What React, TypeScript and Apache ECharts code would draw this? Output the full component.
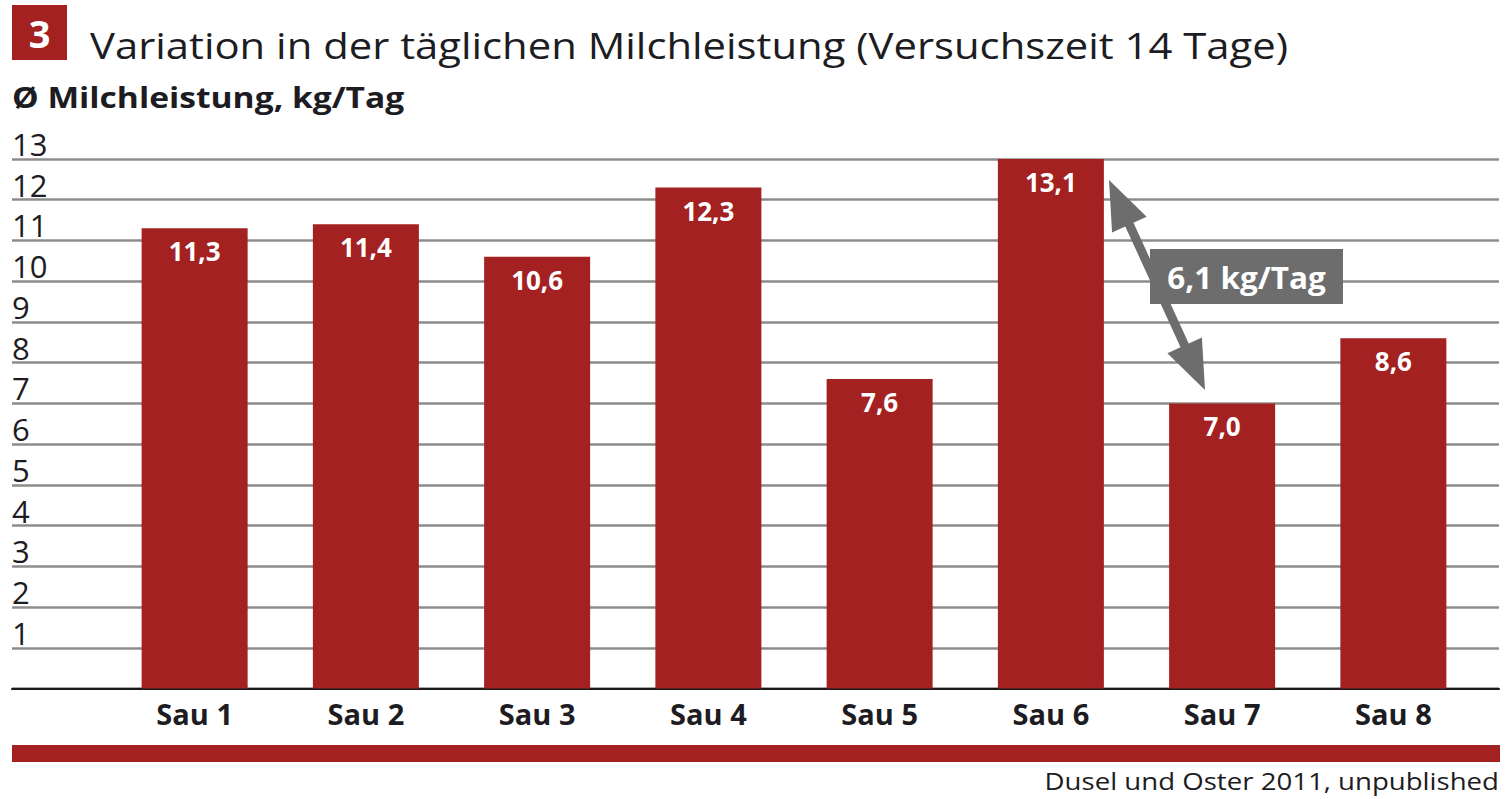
import React, { useEffect, useRef } from "react";
import * as echarts from "echarts";

const categories = ["Sau 1", "Sau 2", "Sau 3", "Sau 4", "Sau 5", "Sau 6", "Sau 7", "Sau 8"];
const milk = [11.3, 11.4, 10.6, 12.3, 7.6, 13.1, 7.0, 8.6];
const yTicks = [0, 1, 2, 3, 4, 5, 6, 7, 8, 9, 10, 11, 12, 13];

const TITLE = "Variation in der täglichen Milchleistung (Versuchszeit 14 Tage)";
const Y_NAME = "Ø Milchleistung, kg/Tag";
const SOURCE = "Dusel und Oster 2011, unpublished";
const DIFF_LABEL = "6,1 kg/Tag";

const RED = "#a32121";
const GREY = "#6d6d6d";
const TXT = "#1c1c22";
const FONT = "'Open Sans', 'Noto Sans', sans-serif";

function arrowPoints(x1: number, y1: number, x2: number, y2: number, shaft: number, headLen: number, headHalf: number) {
  const dx = x2 - x1, dy = y2 - y1;
  const L = Math.hypot(dx, dy);
  const ux = dx / L, uy = dy / L;
  const nx = -uy, ny = ux;
  const ax = x1 + ux * headLen, ay = y1 + uy * headLen;
  const bx = x2 - ux * headLen, by = y2 - uy * headLen;
  const s = shaft / 2;
  return [
    [x1, y1],
    [ax + nx * headHalf, ay + ny * headHalf],
    [ax + nx * s, ay + ny * s],
    [bx + nx * s, by + ny * s],
    [bx + nx * headHalf, by + ny * headHalf],
    [x2, y2],
    [bx - nx * headHalf, by - ny * headHalf],
    [bx - nx * s, by - ny * s],
    [ax - nx * s, ay - ny * s],
    [ax - nx * headHalf, ay - ny * headHalf],
  ];
}

export default function App() {
  const ref = useRef<HTMLDivElement>(null);
  useEffect(() => {
    if (!ref.current) return;
    const chart = echarts.init(ref.current, undefined, { renderer: "svg" });
    const yMax = yTicks[yTicks.length - 1];
    chart.setOption({
      animation: false,
      backgroundColor: "#ffffff",
      grid: [
        { left: 12, right: 6, top: 159, bottom: 110.5 },
        { left: 109, right: 26, top: 159, bottom: 110.5 },
      ],
      xAxis: [
        {
          gridIndex: 0, type: "value", min: 0, max: 1,
          axisLine: { show: true, lineStyle: { color: "#1a1a1a", width: 2 } },
          axisTick: { show: false }, axisLabel: { show: false }, splitLine: { show: false },
        },
        {
          gridIndex: 1, type: "category", data: categories,
          axisLine: { show: false }, axisTick: { show: false },
          axisLabel: { color: TXT, fontFamily: FONT, fontWeight: "bold", fontSize: 29, margin: 10 },
        },
      ],
      yAxis: [
        {
          gridIndex: 0, type: "value", min: yTicks[0], max: yMax, interval: 1,
          axisLine: { show: false }, axisTick: { show: false },
          splitLine: { show: true, lineStyle: { color: "#8c8c8c", width: 2.5 } },
          axisLabel: {
            inside: true, margin: 0, align: "left", verticalAlign: "bottom",
            color: TXT, fontFamily: FONT, fontSize: 31, lineHeight: 30,
            formatter: (v: number) => (v === 0 ? "" : String(v)),
          },
        },
        { gridIndex: 1, type: "value", min: yTicks[0], max: yMax, show: false },
      ],
      series: [
        {
          type: "bar", xAxisIndex: 1, yAxisIndex: 1, data: milk, barWidth: 106,
          itemStyle: { color: RED },
          label: {
            show: true, position: "insideTop", distance: 10, color: "#ffffff",
            fontFamily: FONT, fontWeight: "bold", fontSize: 26,
            formatter: (p: any) => Number(p.value).toFixed(1).replace(".", ","),
          },
        },
      ],
      graphic: [
        { type: "rect", z: 50, shape: { x: 12, y: 5, width: 55, height: 55 }, style: { fill: RED } },
        {
          type: "text", z: 50, x: 39.5, y: 33,
          style: { text: "3", fill: "#fff", font: `bold 38px ${FONT}`, align: "center", verticalAlign: "middle" },
        },
        {
          type: "text", z: 50, x: 90, y: 45, scaleX: 1.13,
          style: { text: TITLE, fill: TXT, font: `37px ${FONT}`, align: "left", verticalAlign: "middle" },
        },
        {
          type: "text", z: 50, x: 12, y: 97, scaleX: 1.2,
          style: { text: Y_NAME, fill: TXT, font: `bold 28px ${FONT}`, align: "left", verticalAlign: "middle" },
        },
        { type: "rect", z: 50, shape: { x: 12, y: 745, width: 1488, height: 17 }, style: { fill: RED } },
        {
          type: "text", z: 50, x: 1499, y: 781, scaleX: 1.15,
          style: { text: SOURCE, fill: TXT, font: `24px ${FONT}`, align: "right", verticalAlign: "middle" },
        },
        {
          type: "polygon", z: 50,
          shape: { points: arrowPoints(1109, 180, 1205, 390, 9, 49, 19) },
          style: { fill: GREY },
        },
        { type: "rect", z: 51, shape: { x: 1150, y: 249, width: 193, height: 55 }, style: { fill: GREY } },
        {
          type: "text", z: 52, x: 1246.5, y: 277, scaleX: 1.05,
          style: { text: DIFF_LABEL, fill: "#fff", font: `bold 30px ${FONT}`, align: "center", verticalAlign: "middle" },
        },
      ],
    });
    return () => chart.dispose();
  }, []);
  return <div ref={ref} style={{ position: "fixed", left: 0, top: 0, width: 1505, height: 799 }} />;
}
